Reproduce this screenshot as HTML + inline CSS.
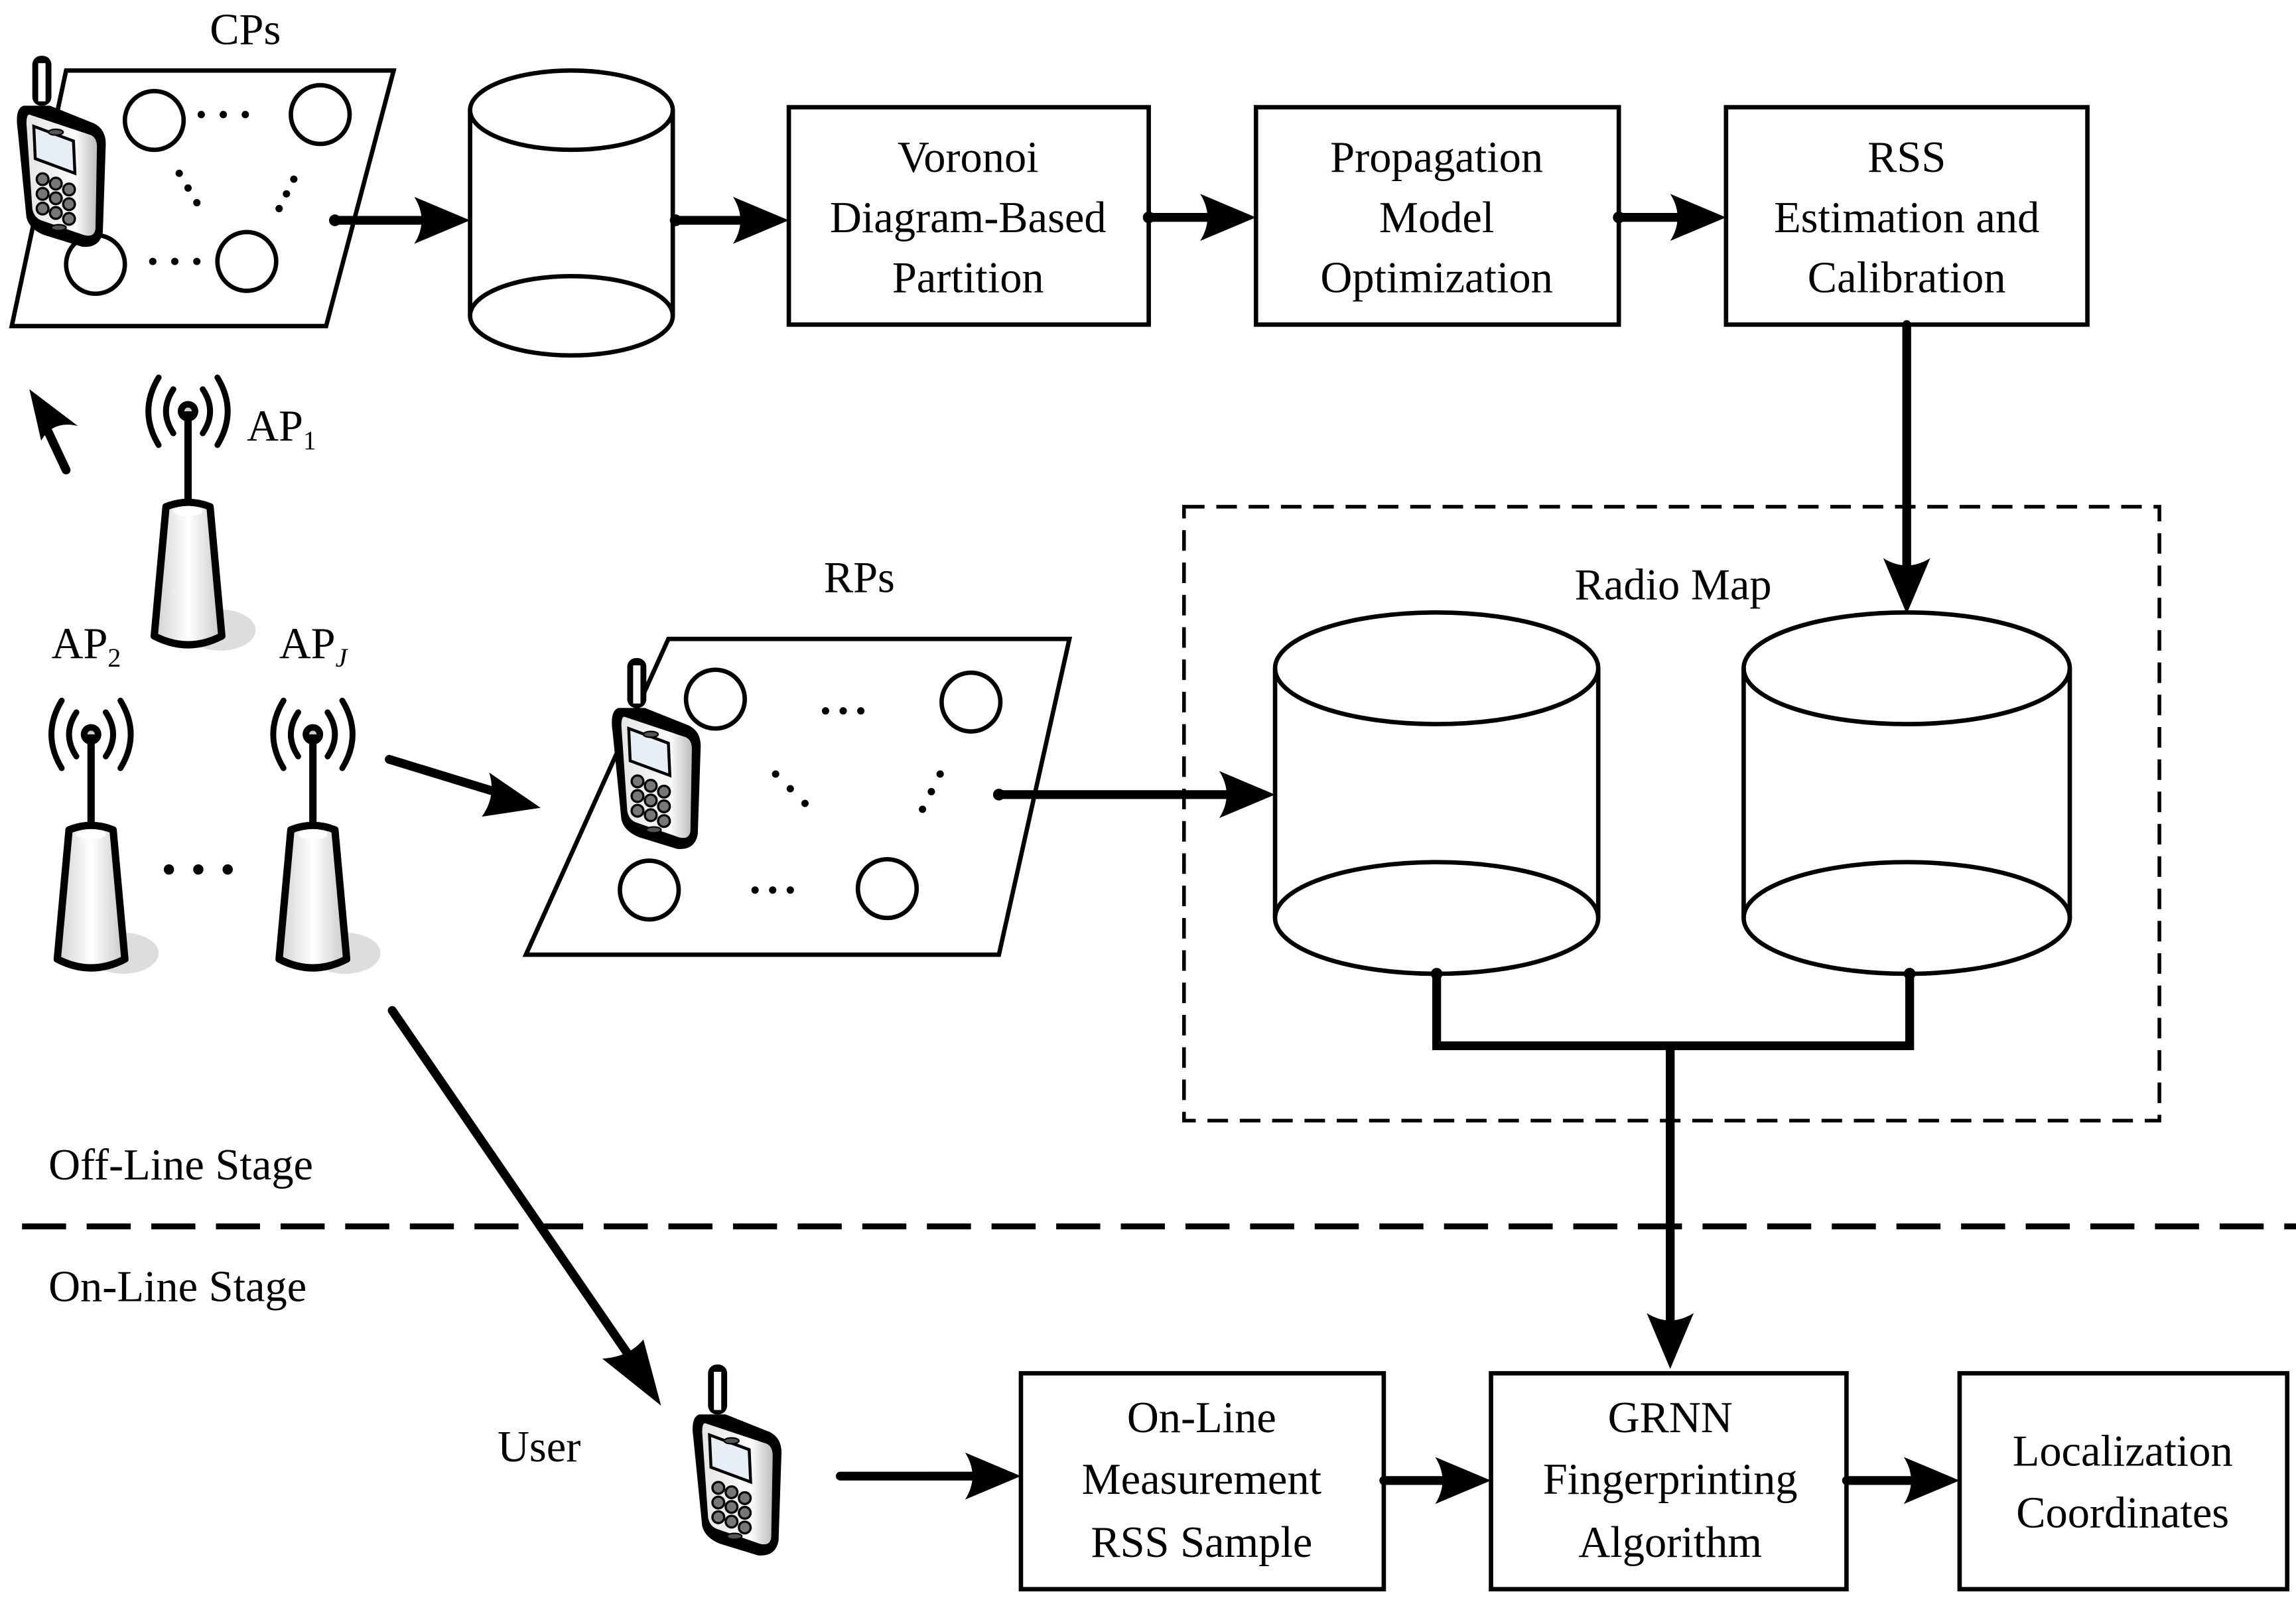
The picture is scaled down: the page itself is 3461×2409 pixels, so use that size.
<!DOCTYPE html>
<html><head><meta charset="utf-8"><style>html,body{margin:0;padding:0;background:#fff}svg{display:block}</style></head><body>
<svg width="3461" height="2409" viewBox="0 0 1563 1088" preserveAspectRatio="none" xmlns="http://www.w3.org/2000/svg">
<defs>
<linearGradient id="pg" x1="0" x2="1"><stop offset="0" stop-color="#e6e6e6"/><stop offset="0.7" stop-color="#fafafa"/><stop offset="1" stop-color="#bdbdbd"/></linearGradient>
<linearGradient id="tg" x1="0" x2="1"><stop offset="0" stop-color="#d0d0d0"/><stop offset="0.5" stop-color="#fff"/><stop offset="1" stop-color="#c8c8c8"/></linearGradient>
<g id="phone">
<rect x="12" y="0" width="13" height="34" rx="6" fill="#000"/>
<rect x="16" y="5" width="5" height="26" fill="#fff"/>
<path d="M6,34 Q0,36 2,50 L8,110 Q10,118 20,122 L46,130 Q58,131 60,120 L62,60 Q62,50 54,46 L24,34 Z" fill="#000"/>
<path d="M10,40 L52,54 Q56,56 56,62 L55,118 Q54,124 47,122 L18,112 Q13,110 12,104 L8,46 Q8,40 10,40Z" fill="url(#pg)"/>
<path d="M13,48 L40,58 L41,80 L14,70Z" fill="#e8eef6" stroke="#000" stroke-width="2"/>
<g fill="#777" stroke="#000" stroke-width="1.5"><circle cx="19" cy="84" r="4"/><circle cx="28" cy="87" r="4"/><circle cx="37" cy="91" r="4"/><circle cx="19" cy="94" r="4"/><circle cx="28" cy="97" r="4"/><circle cx="37" cy="101" r="4"/><circle cx="19" cy="104" r="4"/><circle cx="28" cy="107" r="4"/><circle cx="37" cy="111" r="4"/></g>
<ellipse cx="30" cy="117" rx="5" ry="2" fill="#555" stroke="#000"/>
<ellipse cx="28" cy="52" rx="5" ry="2" fill="#555" stroke="#000"/>
</g>
<g id="ap">
<ellipse cx="22" cy="134" rx="24" ry="14" fill="#ddd"/>
<path d="M-10,0 Q-20,-15 -10,-30 M10,0 Q20,-15 10,-30 M-20,8 Q-34,-15 -20,-38 M20,8 Q34,-15 20,-38" fill="none" stroke="#000" stroke-width="4" stroke-linecap="round"/>
<circle cx="0" cy="-15" r="7" fill="#000"/><circle cx="0" cy="-15" r="2.5" fill="#ccc"/>
<line x1="0" y1="-15" x2="0" y2="50" stroke="#000" stroke-width="5"/>
<path d="M-15,50 Q0,44 15,50 L23,138 Q0,150 -23,138 Z" fill="url(#tg)" stroke="#000" stroke-width="5" stroke-linejoin="round"/>
<ellipse cx="0" cy="53" rx="10" ry="3.5" fill="#fff"/>
</g>
</defs>
<g fill="none" stroke="#000" stroke-width="3">
<path d="M45,48 L268,48 L222,222 L8,222 Z"/>
<circle cx="105" cy="82" r="20"/><circle cx="218" cy="78" r="20"/><circle cx="65" cy="180" r="20"/><circle cx="168" cy="178" r="20"/>
<ellipse cx="389" cy="75" rx="69" ry="27"/><path d="M320,75 V215 M458,75 V215"/><ellipse cx="389" cy="215" rx="69" ry="27"/>
<rect x="537" y="73" width="245" height="148"/>
<rect x="855" y="73" width="247" height="148"/>
<rect x="1175" y="73" width="246" height="148"/>
<rect x="806" y="345" width="664" height="418" stroke-dasharray="14,8" stroke-width="2.5"/>
<ellipse cx="978" cy="455" rx="110" ry="38"/><path d="M868,455 V625 M1088,455 V625"/><ellipse cx="978" cy="625" rx="110" ry="38"/>
<ellipse cx="1298" cy="455" rx="111" ry="38"/><path d="M1187,455 V625 M1409,455 V625"/><ellipse cx="1298" cy="625" rx="111" ry="38"/>
<path d="M455,435 L728,435 L680,650 L358,650 Z"/>
<circle cx="487" cy="476" r="20"/><circle cx="661" cy="478" r="20"/><circle cx="442" cy="606" r="20"/><circle cx="604" cy="605" r="20"/>
<rect x="695" y="935" width="247" height="147"/>
<rect x="1015" y="935" width="242" height="147"/>
<rect x="1334" y="935" width="223" height="147"/>
<line x1="15" y1="835" x2="1563" y2="835" stroke-dasharray="30,14" stroke-width="4"/>
</g>
<g fill="#000">
<circle cx="137" cy="78" r="2.5"/><circle cx="152" cy="78" r="2.5"/><circle cx="167" cy="78" r="2.5"/>
<circle cx="104" cy="178" r="2.5"/><circle cx="119" cy="178" r="2.5"/><circle cx="134" cy="178" r="2.5"/>
<circle cx="122" cy="118" r="2.5"/><circle cx="128" cy="128" r="2.5"/><circle cx="134" cy="138" r="2.5"/>
<circle cx="200" cy="122" r="2.5"/><circle cx="195" cy="132" r="2.5"/><circle cx="190" cy="142" r="2.5"/>
<circle cx="562" cy="484" r="2.5"/><circle cx="574" cy="484" r="2.5"/><circle cx="586" cy="484" r="2.5"/>
<circle cx="514" cy="606" r="2.5"/><circle cx="526" cy="606" r="2.5"/><circle cx="538" cy="606" r="2.5"/>
<circle cx="528" cy="527" r="2.5"/><circle cx="538" cy="537" r="2.5"/><circle cx="548" cy="547" r="2.5"/>
<circle cx="640" cy="527" r="2.5"/><circle cx="634" cy="539" r="2.5"/><circle cx="628" cy="551" r="2.5"/>
<circle cx="115" cy="592" r="3.5"/><circle cx="135" cy="592" r="3.5"/><circle cx="155" cy="592" r="3.5"/>
<circle cx="228" cy="150" r="4"/><circle cx="460" cy="150" r="4"/><circle cx="782" cy="148" r="4"/><circle cx="1102" cy="148" r="4"/><circle cx="680" cy="541" r="4"/><circle cx="978" cy="663" r="4"/><circle cx="1300" cy="663" r="4"/>
</g>
<g fill="none" stroke="#000" stroke-width="6" stroke-linecap="round">
<path d="M228,150 H292"/><path d="M460,150 H510"/><path d="M782,148 H828"/><path d="M1102,148 H1148"/>
<path d="M1298,221 V392"/>
<path d="M978,663 V712 H1300 V663 M1137,712 V905"/>
<path d="M45,320 L30,288"/>
<path d="M265,517 L340,540"/>
<path d="M680,541 H840"/>
<path d="M267,688 L433,930"/>
<path d="M572,1005 H668"/><path d="M942,1008 H988"/><path d="M1257,1008 H1307"/>
</g>
<g fill="#000">
<path d="M320,150 L282,134 Q292,150 282,166 Z"/>
<path d="M537,150 L499,134 Q509,150 499,166 Z"/>
<path d="M855,148 L817,132 Q827,148 817,164 Z"/>
<path d="M1175,148 L1137,132 Q1147,148 1137,164 Z"/>
<path d="M1298,418 L1282,380 Q1298,390 1314,380 Z"/>
<path d="M1137,932 L1121,894 Q1137,904 1153,894 Z"/>
<path d="M868,541 L830,525 Q840,541 830,557 Z"/>
<path d="M695,1005 L657,989 Q667,1005 657,1021 Z"/>
<path d="M1015,1008 L977,992 Q987,1008 977,1024 Z"/>
<path d="M1334,1008 L1296,992 Q1306,1008 1296,1024 Z"/>
<path d="M20,265 L53,290 Q36,286 28,300 Z"/>
<path d="M368,550 L333,526 Q338,542 328,556 Z"/>
<path d="M450,957 L410,925 Q428,924 438,912 Z"/>
</g>
<use href="#phone" x="10" y="38"/>
<use href="#phone" x="415" y="448"/>
<use href="#phone" x="470" y="929"/>
<use href="#ap" x="128" y="295"/>
<use href="#ap" x="62" y="515"/>
<use href="#ap" x="213" y="515"/>
<g font-family="Liberation Serif, serif" font-size="30" fill="#000">
<g text-anchor="middle">
<text x="167" y="30">CPs</text>
<text x="659" y="117">Voronoi</text><text x="659" y="158">Diagram-Based</text><text x="659" y="199">Partition</text>
<text x="978" y="117">Propagation</text><text x="978" y="158">Model</text><text x="978" y="199">Optimization</text>
<text x="1298" y="117">RSS</text><text x="1298" y="158">Estimation and</text><text x="1298" y="199">Calibration</text>
<text x="1139" y="408">Radio Map</text>
<text x="585" y="403">RPs</text>
<text x="818" y="975">On-Line</text><text x="818" y="1017">Measurement</text><text x="818" y="1060">RSS Sample</text>
<text x="1137" y="975">GRNN</text><text x="1137" y="1017">Fingerprinting</text><text x="1137" y="1060">Algorithm</text>
<text x="1445" y="998">Localization</text><text x="1445" y="1040">Coordinates</text>
<text x="367" y="995">User</text>
</g>
<text x="33" y="803">Off-Line Stage</text>
<text x="33" y="886">On-Line Stage</text>
<text x="168" y="300">AP<tspan font-size="18" dy="6">1</tspan></text>
<text x="35" y="448">AP<tspan font-size="18" dy="6">2</tspan></text>
<text x="190" y="448">AP<tspan font-size="18" dy="6" font-style="italic">J</tspan></text>
</g>
</svg>
</body></html>
